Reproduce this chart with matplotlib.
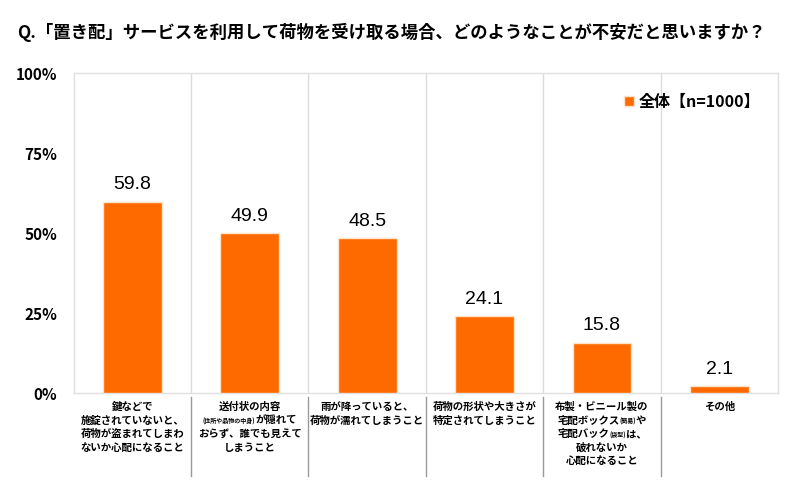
import re
import numpy as np
import matplotlib.pyplot as plt
from matplotlib.transforms import IdentityTransform

plt.rcParams['font.family'] = ['Noto Sans CJK JP', 'DejaVu Sans']

title = 'Q.「置き配」サービスを利用して荷物を受け取る場合、どのようなことが不安だと思いますか？'
series_name = '全体【n=1000】'
categories = [
    '鍵などで\n施錠されていないと、\n荷物が盗まれてしまわ\nないか心配になること',
    '送付状の内容\n(住所や品物の中身)が隠れて\nおらず、誰でも見えて\nしまうこと',
    '雨が降っていると、\n荷物が濡れてしまうこと',
    '荷物の形状や大きさが\n特定されてしまうこと',
    '布製・ビニール製の\n宅配ボックス(簡易)や\n宅配バック(袋型)は、\n破れないか\n心配になること',
    'その他',
]
values = [59.8, 49.9, 48.5, 24.1, 15.8, 2.1]
yticks = [0, 25, 50, 75, 100]

fig = plt.figure(figsize=(7.93, 4.97), dpi=100)
ax = fig.add_axes([0.093, 0.209, 0.888, 0.644])

x = np.arange(len(values))
bars = ax.bar(x, values, width=0.5, color='#ff6a00', edgecolor='#fde3c8',
              linewidth=1, label=series_name, zorder=3)
for xi, v in zip(x, values):
    ax.text(xi, v + 2.6, f'{v:.1f}', ha='center', va='bottom',
            fontsize=14, family='Liberation Sans')

ax.set_xlim(-0.5, len(values) - 0.5)
ax.set_ylim(0, 100)
ax.set_yticks(yticks)
ax.set_yticklabels([f'{t}%' for t in yticks], fontsize=11, fontweight='bold')
ax.tick_params(axis='y', length=0, pad=12)
ax.set_xticks([])
for s in ax.spines.values():
    s.set_color('#e0e0e0')
    s.set_linewidth(1)

for xs in x[:-1] + 0.5:
    ax.axvline(xs, color='#dcdcdc', lw=1, zorder=1)
    ax.plot([xs, xs], [-0.012, -0.26], transform=ax.get_xaxis_transform(),
            color='#9a9a9a', lw=1, clip_on=False)

leg = ax.legend(loc='upper right', bbox_to_anchor=(0.995, 0.98), frameon=False,
                handlelength=0.6, handleheight=0.6, handletextpad=0.3,
                prop={'size': 11.5, 'weight': 'bold'})

fig.text(0.022, 0.935, title, fontsize=12.5, fontweight='bold', va='center')

# category labels drawn below the axis, parentheses in small type
renderer = fig.canvas.get_renderer()
ax_bottom = ax.get_window_extent(renderer).y0
for xi, lab in zip(x, categories):
    cx = ax.transData.transform((xi, 0))[0]
    for li, line in enumerate(lab.split('\n')):
        base_y = ax_bottom - 17 - li * 13.5
        parts = [p for p in re.split(r'(\([^)]*\))', line) if p]
        texts = []
        for p in parts:
            small = p.startswith('(')
            t = fig.text(0, base_y, p, transform=IdentityTransform(),
                         fontsize=4.3 if small else 7.5, fontweight='bold',
                         ha='left', va='baseline')
            texts.append(t)
        widths = [t.get_window_extent(renderer).width for t in texts]
        start = cx - sum(widths) / 2
        for t, w in zip(texts, widths):
            t.set_position((start, base_y))
            start += w

fig.savefig('out.png', dpi=100)
